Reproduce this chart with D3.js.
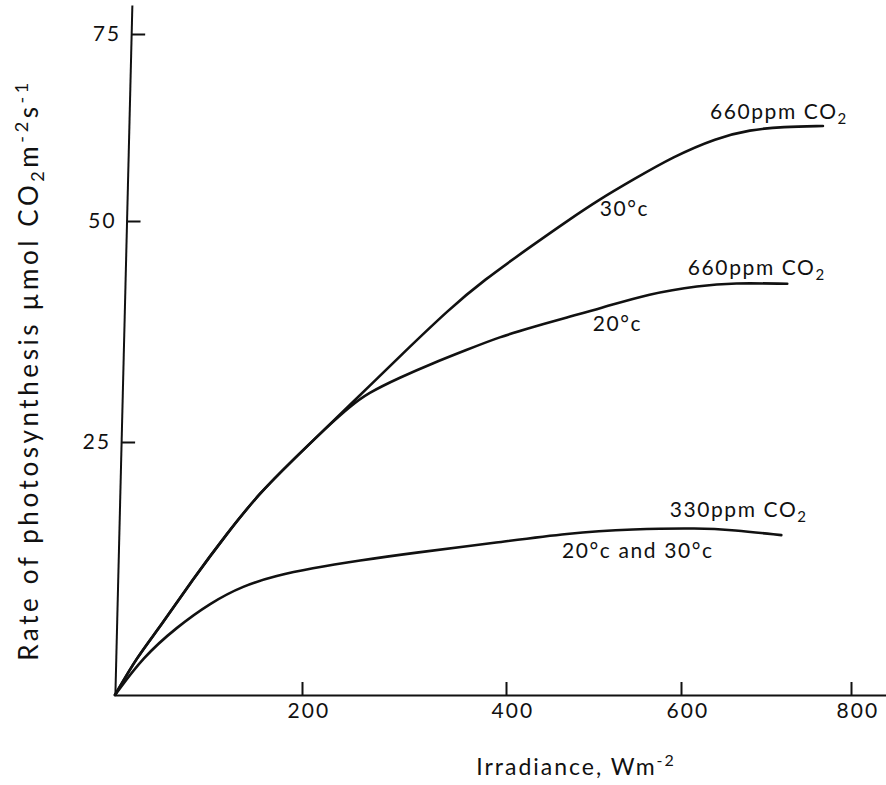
<!DOCTYPE html>
<html>
<head>
<meta charset="utf-8">
<script src="https://cdn.jsdelivr.net/npm/d3@7"></script>
<style>
  body { margin: 0; background: #fff; }
  svg { display: block; }
  .tick text { font-family: Lato, "DejaVu Sans", sans-serif; font-size: 21px; letter-spacing: 2px; fill: #111; }
  .tick line, .domain { stroke: #111; stroke-width: 2px; }
  .note { font-family: Lato, "DejaVu Sans", sans-serif; font-size: 21px; letter-spacing: 1.6px; fill: #111; }
</style>
</head>
<body>
<div id="chart-container"></div>
<script>
// values
const xTicks = [200, 400, 600, 800];
const yTicks = [25, 50, 75];

// 660 ppm CO2, 30 C
const irr30 = [0, 23.5, 48, 83, 120, 155, 190, 224.5, 247, 264, 296, 345, 377, 431, 470, 507, 545, 591, 642, 681, 720, 767];
const rate30 = [0, 3.75, 6.7, 11.4, 16.0, 20.0, 23.2, 26.7, 29.2, 31.1, 34.7, 40.1, 43.2, 47.3, 50.0, 52.9, 55.5, 58.6, 61.1, 62.2, 62.6, 62.7];

// 660 ppm CO2, 20 C
const irr20 = [0, 23.5, 48, 83, 120, 155, 190, 224.5, 247, 264, 296, 328, 361, 394, 431, 470, 507, 564, 622, 661, 725];
const rate20 = [0, 3.75, 6.7, 11.4, 16.0, 20.0, 23.2, 26.7, 29.0, 30.5, 32.3, 33.9, 35.4, 36.9, 38.0, 39.1, 40.1, 41.8, 42.7, 43.0, 42.9];

// 330 ppm CO2, 20 C and 30 C
const irr330 = [0, 30, 66, 102, 137, 173, 208, 257, 306, 394, 470, 545, 622, 661, 718];
const rate330 = [0, 3.75, 6.7, 9.1, 10.8, 11.8, 12.5, 13.3, 14.0, 15.1, 16.0, 16.4, 16.5, 16.3, 15.8];

const svgWidth = 886;
const svgHeight = 785;

const svg = d3.select('#chart-container')
  .append('svg')
  .attr('width', svgWidth)
  .attr('height', svgHeight);

// the hand-drawn tick spacing is uneven, so the scales are piecewise
const xScale = d3.scaleLinear()
  .domain([0, 200, 400, 600, 800, 840])
  .range([115, 302, 506, 681, 851, 886]);

const yScale = d3.scaleLinear()
  .domain([0, 25, 50, 75, 79])
  .range([695, 442, 221, 34, 5]);

// x axis, ticks pointing up
svg.append('g')
  .attr('transform', `translate(0,${yScale(0)})`)
  .call(d3.axisBottom(xScale).tickValues(xTicks).tickSizeInner(-13).tickSizeOuter(0).tickPadding(8))
  .call(g => g.selectAll('.tick text').attr('dx', '0.3em'));

// y axis, drawn slightly slanted like the original
svg.append('g')
  .attr('transform', `translate(${xScale(0) + 17},0) skewX(-1.41)`)
  .call(d3.axisLeft(yScale).tickValues(yTicks).tickSizeInner(-14).tickSizeOuter(0).tickPadding(10));

svg.selectAll('.domain').attr('fill', 'none');

const line = d3.line()
  .x(d => xScale(d[0]))
  .y(d => yScale(d[1]))
  .curve(d3.curveBasis);

const series = [
  d3.zip(irr30, rate30),
  d3.zip(irr20, rate20),
  d3.zip(irr330, rate330)
];

svg.selectAll('path.curve')
  .data(series)
  .enter()
  .append('path')
  .attr('class', 'curve')
  .attr('d', line)
  .attr('fill', 'none')
  .attr('stroke', '#111')
  .attr('stroke-width', 2.6)
  .attr('stroke-linecap', 'round');

// curve labels
function co2Label(text, irr, rate) {
  const t = svg.append('text')
    .attr('class', 'note')
    .attr('x', xScale(irr))
    .attr('y', yScale(rate));
  t.append('tspan').text(text + ' CO');
  t.append('tspan').attr('dy', 5).style('font-size', '15px').text('2');
}

co2Label('660ppm', 634, 63.6);
co2Label('660ppm', 608, 43.9);
co2Label('330ppm', 587, 17.6);

svg.append('text').attr('class', 'note')
  .attr('x', xScale(507)).attr('y', yScale(50.7)).text('30°c');
svg.append('text').attr('class', 'note')
  .attr('x', xScale(499)).attr('y', yScale(37.6)).text('20°c');
svg.append('text').attr('class', 'note')
  .attr('x', xScale(464)).attr('y', yScale(13.5)).text('20°c and 30°c');

// axis titles
const xTitle = svg.append('text')
  .attr('class', 'note')
  .attr('x', xScale(480))
  .attr('y', 775)
  .attr('text-anchor', 'middle')
  .style('font-size', '23px')
  .style('letter-spacing', '2px');
xTitle.append('tspan').text('Irradiance, Wm');
xTitle.append('tspan').attr('dy', -9).style('font-size', '16px').text('-2');

const yTitle = svg.append('text')
  .attr('class', 'note')
  .attr('transform', 'translate(38,370) rotate(-90)')
  .attr('text-anchor', 'middle')
  .style('font-size', '26px')
  .style('letter-spacing', '3.6px');
yTitle.append('tspan').text('Rate of photosynthesis µmol CO');
yTitle.append('tspan').attr('dy', 6).style('font-size', '18px').text('2');
yTitle.append('tspan').attr('dy', -6).text('m');
yTitle.append('tspan').attr('dy', -10).style('font-size', '18px').text('-2');
yTitle.append('tspan').attr('dy', 10).text('s');
yTitle.append('tspan').attr('dy', -10).style('font-size', '18px').text('-1');
</script>
</body>
</html>
